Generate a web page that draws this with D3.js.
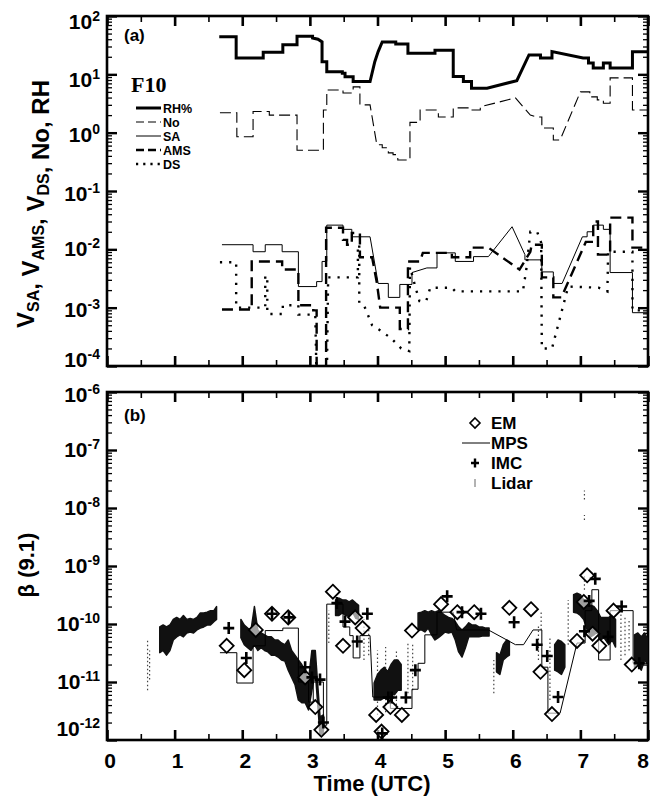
<!DOCTYPE html>
<html>
<head>
<meta charset="utf-8">
<script src="https://cdn.jsdelivr.net/npm/d3@7"></script>
<style>
  body { margin: 0; background: #fff; }
  text { font-family: "Liberation Sans", Arial, sans-serif; font-weight: bold; fill: #000; }
</style>
</head>
<body>
<div id="chart"></div>
<script>
// two stacked log panels: (a) volumes / No / RH, (b) backscatter beta(9.1)

var hours = [0, 1, 2, 3, 4, 5, 6, 7, 8];
var decadesA = [2, 1, 0, -1, -2, -3, -4];
var decadesB = [-6, -7, -8, -9, -10, -11, -12];

// panel (a) series, [time (UTC h), value]
var rh = [[1.66,44],[1.91,44],[1.91,19],[2.31,19],[2.31,24],[2.6,24],[2.6,32],[2.81,32],[2.81,45],[3.04,45],[3.04,42],
  [3.12,40],[3.18,36],[3.18,16.5],[3.25,16.5],[3.25,11.1],[3.48,11.1],[3.48,10.4],[3.52,10.4],[3.52,9.1],[3.64,9.1],
  [3.64,7.5],[3.89,7.5],[3.96,16.5],[4.01,24.5],[4.07,36],[4.27,36],[4.27,33],[4.45,33],[4.45,23],[4.85,23],[4.85,26],
  [5.12,26],[5.12,9.2],[5.27,9.2],[5.27,7.5],[5.39,7.5],[5.39,5.8],[5.62,5.8],[6.06,7.8],[6.24,21.5],[6.41,21.5],
  [6.41,19],[6.58,19],[6.58,24.5],[7.04,19],[7.12,19],[7.12,15.7],[7.19,15.7],[7.19,12.9],[7.34,12.9],[7.34,15.7],
  [7.44,15.7],[7.44,12.9],[7.77,12.9],[7.77,24.5],[8.0,24.5]];

var no = [[1.67,2.2],[1.92,2.2],[1.92,0.85],[2.16,0.85],[2.16,2.3],[2.4,2.3],[2.4,2.0],[2.81,2.0],[2.81,0.5],[3.2,0.5],
  [3.2,2.45],[3.25,2.45],[3.25,5.4],[3.49,5.4],[3.49,4.8],[3.64,4.8],[3.64,6.1],[3.74,6.1],[3.74,3.0],[3.89,3.0],
  [3.99,0.62],[4.07,0.62],[4.07,0.55],[4.16,0.55],[4.16,0.45],[4.23,0.45],[4.23,0.42],[4.3,0.42],[4.3,0.34],[4.48,0.34],
  [4.48,1.5],[4.63,1.5],[4.63,2.45],[4.9,2.45],[4.9,1.86],[5.12,1.86],[5.12,2.66],[5.37,2.66],[5.37,2.45],[5.52,2.45],
  [5.52,2.77],[6.04,3.95],[6.26,2.0],[6.36,1.86],[6.43,1.86],[6.43,1.2],[6.6,1.2],[6.6,0.75],[6.7,0.75],[7.0,5.0],
  [7.14,5.0],[7.14,4.1],[7.25,4.1],[7.25,3.65],[7.34,3.65],[7.34,3.2],[7.44,3.2],[7.44,8.7],[7.77,8.7],[7.77,2.45],[8.0,2.45]];

var sa = [[1.7,0.012],[2.16,0.012],[2.16,0.0091],[2.34,0.0091],[2.34,0.012],[2.59,0.012],[2.59,0.0091],[2.83,0.0091],
  [2.83,0.0023],[3.1,0.0023],[3.1,0.0028],[3.18,0.0028],[3.18,0.0062],[3.25,0.0062],[3.25,0.026],[3.49,0.026],
  [3.49,0.022],[3.62,0.022],[3.62,0.0164],[3.89,0.0164],[4.01,0.0026],[4.16,0.0026],[4.16,0.0015],[4.33,0.0015],
  [4.33,0.0025],[4.51,0.0025],[4.51,0.004],[4.73,0.0048],[4.88,0.0048],[4.88,0.0087],[5.15,0.0087],[5.15,0.0062],
  [5.42,0.0062],[5.42,0.0075],[5.64,0.0075],[5.99,0.0244],[6.18,0.0081],[6.18,0.0066],[6.43,0.0066],[6.43,0.0041],
  [6.6,0.0041],[6.6,0.0026],[6.73,0.0026],[7.03,0.0164],[7.1,0.0164],[7.1,0.02],[7.19,0.02],[7.19,0.026],[7.34,0.026],
  [7.34,0.022],[7.44,0.022],[7.44,0.004],[7.77,0.004],[7.77,0.00082],[8.0,0.00082]];

var ams = [[1.7,0.00093],[2.14,0.00093],[2.14,0.0062],[2.59,0.0062],[2.59,0.0045],[2.83,0.0045],[2.83,0.0011],
  [3.05,0.0011],[3.05,0.0009],[3.1,0.0009],[3.1,0.00005],[3.24,0.00005],[3.24,0.0235],[3.49,0.0235],[3.49,0.0145],
  [3.55,0.0145],[3.55,0.012],[3.62,0.012],[3.62,0.019],[3.74,0.019],[3.74,0.0073],[3.92,0.0073],[3.99,0.0027],
  [4.04,0.001],[4.33,0.001],[4.33,0.00043],[4.45,0.00043],[4.45,0.0062],[4.63,0.0062],[4.67,0.0087],[5.1,0.0087],
  [5.1,0.0073],[5.37,0.0073],[5.37,0.0107],[5.64,0.0107],[6.1,0.0045],[6.26,0.0091],[6.28,0.012],[6.43,0.012],
  [6.43,0.0033],[6.6,0.0033],[6.6,0.0015],[6.72,0.0015],[7.08,0.0134],[7.19,0.0134],[7.19,0.03],[7.26,0.03],
  [7.26,0.0081],[7.44,0.0081],[7.44,0.035],[7.77,0.035],[7.77,0.0107],[8.0,0.0107]];

var ds = [[1.67,0.006],[1.91,0.006],[1.91,0.001],[2.34,0.001],[2.34,0.0035],[2.37,0.0035],[2.37,0.00078],[2.6,0.00078],
  [2.6,0.0011],[2.83,0.0011],[2.83,0.00076],[3.08,0.00076],[3.1,0.00005],[3.25,0.00005],[3.27,0.0033],[3.71,0.0033],
  [3.71,0.012],[3.73,0.012],[3.73,0.0012],[3.8,0.0011],[3.92,0.0005],[4.05,0.0004],[4.2,0.0003],[4.35,0.0002],
  [4.47,0.00018],[4.48,0.005],[4.55,0.0025],[4.62,0.0013],[4.72,0.0013],[4.78,0.0022],[5.1,0.0022],[5.15,0.0019],
  [6.15,0.0019],[6.2,0.0045],[6.26,0.02],[6.36,0.02],[6.42,0.013],[6.43,0.0002],[6.58,0.0002],[6.82,0.0023],
  [7.27,0.0022],[7.4,0.0019],[7.41,0.0091],[7.77,0.0091],[7.77,0.0009],[8.0,0.0009]];

// panel (b) series
var mps = [[1.67,3.2e-11],[1.92,3.2e-11],[1.92,9.6e-12],[2.16,9.6e-12],[2.16,4.2e-11],[2.34,4.2e-11],[2.34,7.7e-11],
  [2.6,7.7e-11],[2.6,8.5e-11],[2.83,8.5e-11],[2.83,1e-11],[2.98,1e-11],[2.98,4.5e-12],[3.05,4.5e-12],[3.05,1e-11],
  [3.2,1e-11],[3.2,1.8e-12],[3.25,1.8e-12],[3.25,2.2e-10],[3.49,2.2e-10],[3.49,8.9e-11],[3.59,8.9e-11],[3.59,6.3e-11],
  [3.64,6.3e-11],[3.64,2.6e-11],[3.74,2.6e-11],[3.74,6.3e-11],[3.89,6.3e-11],[3.93,5.5e-12],[4.19,5.5e-12],
  [4.19,3.5e-12],[4.51,3.5e-12],[4.51,7.5e-12],[4.6,7.5e-12],[4.6,2.1e-11],[4.7,2.1e-11],[4.7,6.5e-11],[4.88,6.5e-11],
  [4.88,1.6e-10],[5.12,1.6e-10],[5.17,7.9e-11],[5.64,7.9e-11],[6.04,4.4e-11],[6.16,4.4e-11],[6.3,7.9e-11],
  [6.43,7.9e-11],[6.43,1.8e-11],[6.52,1.8e-11],[6.52,2.9e-12],[6.7,2.9e-12],[6.95,4.7e-11],[7.07,4.7e-11],
  [7.07,1.7e-10],[7.17,1.7e-10],[7.17,3.9e-10],[7.27,3.9e-10],[7.27,2.4e-11],[7.44,2.4e-11],[7.44,1.7e-10],
  [7.78,1.7e-10],[7.78,2.1e-11],[8.0,2.1e-11]];

var em = [[1.77,4.2e-11],[2.03,1.6e-11],[2.2,7.9e-11],[2.44,1.5e-10],[2.68,1.3e-10],[2.93,1.2e-11],[3.08,3.7e-12],
  [3.17,1.5e-12],[3.34,3.6e-10],[3.49,4.2e-11],[3.67,1.3e-10],[3.78,8.5e-11],[3.98,2.7e-12],[4.06,1.4e-12],
  [4.19,3.7e-12],[4.36,2.7e-12],[4.51,7.7e-11],[4.94,2.2e-10],[5.18,1.6e-10],[5.43,1.6e-10],[5.95,1.9e-10],
  [6.27,1.8e-10],[6.41,1.5e-11],[6.58,2.8e-12],[6.95,5.1e-11],[7.05,2.4e-10],[7.1,6.9e-10],[7.18,6.8e-11],
  [7.28,4.2e-11],[7.49,1.7e-10],[7.76,2.0e-11]];

var imc = [[1.8,8.5e-11],[2.06,2.6e-11],[2.44,1.5e-10],[2.69,1.3e-10],[2.93,1.8e-11],[3.03,1.2e-11],[3.15,1.1e-11],
  [3.2,2e-12],[3.4,2.3e-10],[3.52,1.1e-10],[3.7,5e-11],[3.85,1.5e-10],[4.07,1.3e-12],[4.16,5.4e-12],[4.21,5.4e-12],
  [4.42,5.4e-12],[4.56,1.6e-11],[5.03,3e-10],[5.25,1.6e-10],[5.53,1.5e-10],[6.02,1.07e-10],[6.36,4.4e-11],
  [6.51,2.8e-11],[6.67,5.5e-12],[7.06,7.5e-11],[7.13,2.5e-10],[7.22,6e-10],[7.41,6e-11],[7.61,2e-10],[7.87,2.1e-11]];

// lidar: [time, low, high] of the dense trace
var lidar = [[0.78,3.2e-11,8.9e-11],[0.83,3.5e-11,9.6e-11],[0.88,2.9e-11,8.9e-11],[0.93,3.5e-11,9.6e-11],
  [0.98,5.3e-11,1.2e-10],[1.03,6e-11,1.3e-10],[1.08,6.5e-11,1.2e-10],[1.13,6e-11,1.4e-10],[1.18,7e-11,1.2e-10],
  [1.23,7.3e-11,1.25e-10],[1.28,7e-11,1.2e-10],[1.33,7.9e-11,1.3e-10],[1.38,8.5e-11,1.55e-10],[1.43,8.9e-11,1.55e-10],
  [1.48,9.6e-11,1.6e-10],[1.53,9.6e-11,1.7e-10],[1.58,1.1e-10,1.7e-10],[1.62,1.2e-10,2e-10],
  [1.98,5.8e-11,1.2e-10],[2.03,4.4e-11,9.6e-11],[2.08,3.9e-11,8.5e-11],[2.13,3.5e-11,7.9e-11],[2.18,4.4e-11,2e-10],
  [2.23,3.5e-11,7.9e-11],[2.28,3.9e-11,7e-11],[2.33,3.5e-11,6.5e-11],[2.38,3.3e-11,6e-11],[2.43,2.9e-11,6e-11],
  [2.48,2.9e-11,5.3e-11],[2.53,2.7e-11,5.3e-11],[2.58,2.4e-11,4.7e-11],[2.63,2.3e-11,4.4e-11],[2.68,1.6e-11,5.3e-11],
  [2.73,1.2e-11,3.5e-11],[2.78,9e-12,2.9e-11],[2.83,4.9e-12,2.4e-11],[2.88,4.4e-12,2e-11],[2.93,4.4e-12,1.6e-11],
  [2.98,3.3e-12,1.1e-11],[3.03,7.2e-12,3.5e-11],[3.08,1.5e-11,3.5e-11],
  [3.15,1.2e-12,2.5e-12],[3.2,1.3e-12,2.7e-12],
  [3.38,1.4e-10,2.6e-10],[3.43,1.4e-10,2.8e-10],[3.48,1.55e-10,2.6e-10],[3.53,1.4e-10,2.6e-10],[3.58,1.35e-10,2.4e-10],
  [3.63,1.6e-10,2.6e-10],[3.68,1.25e-10,2.3e-10],[3.72,1.2e-10,2.1e-10],
  [3.95,4.9e-12,9.6e-12],[4.0,4.9e-12,1.35e-11],[4.05,4.9e-12,1.6e-11],[4.1,5.4e-12,1.8e-11],[4.15,4.9e-12,1.5e-11],
  [4.2,6e-12,2e-11],[4.25,6e-12,2.4e-11],[4.3,7.2e-12,2.4e-11],[4.35,7.2e-12,2e-11],
  [4.6,7.9e-11,1.55e-10],[4.65,7.9e-11,1.6e-10],[4.7,7.3e-11,1.7e-10],[4.75,8.5e-11,1.6e-10],[4.8,6.5e-11,1.7e-10],
  [4.85,5.3e-11,1.6e-10],[4.9,5.8e-11,1.7e-10],[4.95,6.5e-11,1.55e-10],[5.0,7.3e-11,1.4e-10],[5.05,7e-11,1.3e-10],
  [5.1,7.3e-11,1.25e-10],[5.15,5.3e-11,1.1e-10],[5.2,3.3e-11,8.9e-11],[5.25,2.7e-11,7.9e-11],[5.3,3.9e-11,8.9e-11],
  [5.35,6e-11,1.05e-10],[5.4,6e-11,9.6e-11],[5.45,6e-11,9.6e-11],[5.5,6e-11,8.9e-11],[5.55,6.2e-11,8.9e-11],
  [5.6,6.2e-11,8.5e-11],[5.65,6.2e-11,8.5e-11],
  [5.76,1.5e-11,3.2e-11],[5.81,1.35e-11,2.9e-11],[5.86,2.4e-11,4.4e-11],[5.91,2.7e-11,5.3e-11],[5.95,2.9e-11,5e-11],
  [6.62,1.6e-11,4.4e-11],[6.67,1.5e-11,5.3e-11],[6.72,1.35e-11,5e-11],[6.77,1.8e-11,4.4e-11],
  [6.9,1.6e-10,3.2e-10],[6.95,1.55e-10,3.4e-10],[7.0,1.4e-10,3.2e-10],[7.05,1.2e-10,2.6e-10],[7.1,7.9e-11,2.3e-10],
  [7.15,6e-11,2.1e-10],[7.2,6.5e-11,2e-10],[7.25,7.3e-11,1.7e-10],[7.3,5.3e-11,1.3e-10],[7.35,5.8e-11,1.3e-10],
  [7.42,4.4e-11,1.3e-10],[7.47,5.3e-11,1.4e-10],[7.52,4e-11,1.2e-10],
  [7.8,1.8e-11,6.5e-11],[7.85,2e-11,7e-11],[7.9,1.6e-11,6e-11],[7.95,2.4e-11,7e-11],[8.0,2e-11,5.3e-11]];

// lidar: faint, scattered returns
var lidarSparse = [[0.6,7.2e-12,5.3e-11],[0.63,1.1e-11,3.5e-11],[3.28,4.7e-11,1.7e-10],[3.8,2.4e-11,1.2e-10],
  [3.87,2.9e-11,9.6e-11],[4.0,2.7e-12,3.5e-11],[4.12,3e-12,4e-11],[4.28,4e-12,3.5e-11],[4.45,6.4e-12,4.7e-11],
  [4.52,7.2e-12,4.4e-11],[5.72,6.4e-12,2.4e-11],[6.38,2.4e-11,9.6e-11],[6.42,7.9e-11,1.7e-10],[6.55,4.9e-12,6e-11],
  [6.82,4.4e-11,2.6e-10],[7.06,3.9e-10,7e-10],[7.06,1.4e-8,2e-8],[7.06,6.2e-9,7.6e-9],[7.6,2.4e-11,1.7e-10],
  [7.66,2.9e-11,1.4e-10],[7.72,3.5e-11,1.2e-10]];

var legendA = ["RH%", "No", "SA", "AMS", "DS"];
var legendB = ["EM", "MPS", "IMC", "Lidar"];

var W = 650, H = 796;
var left = 107, right = 648;

var svg = d3.select("#chart").append("svg")
    .attr("width", W)
    .attr("height", H);

var x = d3.scaleLinear().domain([0, 8]).range([left, right]);
var yA = d3.scaleLog().domain([1e-4, 1e2]).range([366, 16]);
var yB = d3.scaleLog().domain([1e-12, 1e-6]).range([740, 392]);

function isDecade(d) {
    var l = Math.log10(d);
    return Math.abs(l - Math.round(l)) < 1e-6;
}

// frame with inward ticks on all four sides
function drawFrame(y, top, bottom, id) {
    svg.append("clipPath").attr("id", id)
        .append("rect")
        .attr("x", left).attr("y", top)
        .attr("width", right - left).attr("height", bottom - top);

    var gl = svg.append("g")
        .attr("transform", "translate(" + left + ",0)")
        .call(d3.axisRight(y).tickFormat(""));
    var gr = svg.append("g")
        .attr("transform", "translate(" + right + ",0)")
        .call(d3.axisLeft(y).tickFormat(""));
    [gl, gr].forEach(function (g, i) {
        var s = i === 0 ? 1 : -1;
        g.select(".domain").remove();
        g.selectAll(".tick line")
            .attr("x2", function (d) { return s * (isDecade(d) ? 10 : 5); })
            .attr("stroke-width", function (d) { return isDecade(d) ? 2.4 : 1.3; });
    });

    var gt = svg.append("g")
        .attr("transform", "translate(0," + top + ")")
        .call(d3.axisBottom(x).ticks(16).tickFormat(""));
    var gb = svg.append("g")
        .attr("transform", "translate(0," + bottom + ")")
        .call(d3.axisTop(x).ticks(16).tickFormat(""));
    [gt, gb].forEach(function (g, i) {
        var s = i === 0 ? 1 : -1;
        g.select(".domain").remove();
        g.selectAll(".tick line")
            .attr("y2", function (d) { return s * (Number.isInteger(d) ? 10 : 6); })
            .attr("stroke-width", function (d) { return Number.isInteger(d) ? 2.6 : 1.6; });
    });

    svg.append("rect")
        .attr("x", left).attr("y", top)
        .attr("width", right - left).attr("height", bottom - top)
        .attr("fill", "none")
        .attr("stroke", "#000")
        .attr("stroke-width", 2.6);
}

function decadeLabels(y, decades, nudge) {
    decades.forEach(function (e, i) {
        var t = svg.append("text")
            .attr("x", 100)
            .attr("y", y(Math.pow(10, e)) + 7 + nudge[i])
            .attr("text-anchor", "end")
            .style("font-size", "21px");
        t.append("tspan").text("10");
        t.append("tspan")
            .attr("dy", -8)
            .style("font-size", "14px")
            .text(String(e));
    });
}

drawFrame(yA, 16, 366, "clipA");
drawFrame(yB, 392, 740, "clipB");

decadeLabels(yA, decadesA, [6, 6, 2, 3, 0, 2, -6]);
decadeLabels(yB, decadesB, [3, 0, 0, 0, 0, 0, -11]);

// x tick labels on the lower panel
svg.selectAll("text.hour")
    .data(hours)
    .enter().append("text")
    .attr("class", "hour")
    .attr("x", function (d) { return Math.min(x(d) + 3, 643); })
    .attr("y", 768)
    .attr("text-anchor", "middle")
    .style("font-size", "21px")
    .text(function (d) { return d; });

svg.append("text")
    .attr("x", 372)
    .attr("y", 791)
    .attr("text-anchor", "middle")
    .style("font-size", "22px")
    .text("Time (UTC)");

// y titles
var ta = svg.append("text")
    .attr("transform", "translate(34,204) rotate(-90)")
    .attr("text-anchor", "middle")
    .style("font-size", "24px");
[["V", "SA"], [", V", "AMS"], [", V", "DS"], [",  No, RH", ""]].forEach(function (p) {
    ta.append("tspan").text(p[0]);
    if (p[1]) {
        ta.append("tspan").attr("dy", 5).style("font-size", "16px").text(p[1]);
        ta.append("tspan").attr("dy", -5).text("");
    }
});

svg.append("text")
    .attr("transform", "translate(34,565) rotate(-90)")
    .attr("text-anchor", "middle")
    .style("font-size", "22px")
    .text("\u03b2 (9.1)");

// panel tags
svg.append("text").attr("x", 124).attr("y", 41).style("font-size", "17px").text("(a)");
svg.append("text").attr("x", 124).attr("y", 421).style("font-size", "17px").text("(b)");
svg.append("text").attr("x", 131).attr("y", 92)
    .style("font-family", "'Liberation Serif', 'Times New Roman', serif")
    .style("font-size", "22px")
    .text("F10");

// panel (a) lines
var styleA = {
    "RH%": {w: 3, dash: null},
    "No": {w: 1.1, dash: "11,5"},
    "SA": {w: 1, dash: null},
    "AMS": {w: 2.4, dash: "11,6"},
    "DS": {w: 2.4, dash: "2.2,7"}
};
var seriesA = {"RH%": rh, "No": no, "SA": sa, "AMS": ams, "DS": ds};

var lineA = d3.line()
    .x(function (d) { return x(d[0]); })
    .y(function (d) { return yA(d[1]); });

var gA = svg.append("g").attr("clip-path", "url(#clipA)");
legendA.forEach(function (k) {
    gA.append("path")
        .attr("d", lineA(seriesA[k]))
        .attr("fill", "none")
        .attr("stroke", "#000")
        .attr("stroke-width", styleA[k].w)
        .attr("stroke-dasharray", styleA[k].dash);
});

// legend (a)
var legY = [108, 122, 136, 150, 164];
legendA.forEach(function (k, i) {
    svg.append("line")
        .attr("x1", 136).attr("x2", 161)
        .attr("y1", legY[i]).attr("y2", legY[i])
        .attr("stroke", "#000")
        .attr("stroke-width", styleA[k].w)
        .attr("stroke-dasharray", k === "DS" ? "2.2,5" : (k === "SA" || k === "RH%") ? null : "8,4");
    svg.append("text")
        .attr("x", 163).attr("y", legY[i] + 4.5)
        .style("font-size", "12.5px")
        .text(k);
});

// panel (b)
var gB = svg.append("g").attr("clip-path", "url(#clipB)");

gB.selectAll("line.lidarSparse")
    .data(lidarSparse)
    .enter().append("line")
    .attr("class", "lidarSparse")
    .attr("x1", function (d) { return x(d[0]); })
    .attr("x2", function (d) { return x(d[0]); })
    .attr("y1", function (d) { return yB(d[1]); })
    .attr("y2", function (d) { return yB(d[2]); })
    .attr("stroke", "#444")
    .attr("stroke-width", 1.2)
    .attr("stroke-dasharray", "1.5,2.5");

// contiguous runs of the dense lidar trace drawn as bands
var runs = [];
lidar.forEach(function (d, i) {
    if (i === 0 || d[0] - lidar[i - 1][0] > 0.075) runs.push([]);
    runs[runs.length - 1].push(d);
});
var band = d3.area()
    .x(function (d) { return x(d[0]); })
    .y0(function (d) { return yB(d[1]); })
    .y1(function (d) { return yB(d[2]); });

gB.selectAll("path.lidar")
    .data(runs)
    .enter().append("path")
    .attr("class", "lidar")
    .attr("d", band)
    .attr("fill", "#111")
    .attr("stroke", "#111")
    .attr("stroke-width", 1.5)
    .attr("stroke-linejoin", "round");

var lineB = d3.line()
    .x(function (d) { return x(d[0]); })
    .y(function (d) { return yB(d[1]); });

gB.append("path")
    .attr("d", lineB(mps))
    .attr("fill", "none")
    .attr("stroke", "#000")
    .attr("stroke-width", 1);

var diamond = "M0,-7L7,0L0,7L-7,0Z";
var plus = "M-5.5,0H5.5M0,-6V6";

gB.selectAll("path.em")
    .data(em)
    .enter().append("path")
    .attr("class", "em")
    .attr("d", diamond)
    .attr("transform", function (d) { return "translate(" + x(d[0]) + "," + yB(d[1]) + ")"; })
    .attr("fill", "#fff")
    .attr("fill-opacity", 0.6)
    .attr("stroke", "#000")
    .attr("stroke-width", 1.8);

gB.selectAll("path.imc")
    .data(imc)
    .enter().append("path")
    .attr("class", "imc")
    .attr("d", plus)
    .attr("transform", function (d) { return "translate(" + x(d[0]) + "," + yB(d[1]) + ")"; })
    .attr("fill", "none")
    .attr("stroke", "#000")
    .attr("stroke-width", 2.6);

// legend (b)
var legBY = [423, 443, 463, 483];
svg.append("path").attr("d", "M0,-5L5,0L0,5L-5,0Z")
    .attr("transform", "translate(475," + legBY[0] + ")")
    .attr("fill", "none").attr("stroke", "#000").attr("stroke-width", 1.6);
svg.append("line").attr("x1", 462).attr("x2", 490).attr("y1", legBY[1]).attr("y2", legBY[1])
    .attr("stroke", "#000").attr("stroke-width", 1);
svg.append("path").attr("d", "M-4,0H4M0,-4.5V4.5")
    .attr("transform", "translate(475," + legBY[2] + ")")
    .attr("fill", "none").attr("stroke", "#000").attr("stroke-width", 2.4);
svg.append("line").attr("x1", 475).attr("x2", 475).attr("y1", legBY[3] - 4).attr("y2", legBY[3] + 4)
    .attr("stroke", "#666").attr("stroke-width", 1);
legendB.forEach(function (k, i) {
    svg.append("text")
        .attr("x", 491).attr("y", legBY[i] + 6)
        .style("font-size", "17px")
        .text(k);
});
</script>
</body>
</html>
